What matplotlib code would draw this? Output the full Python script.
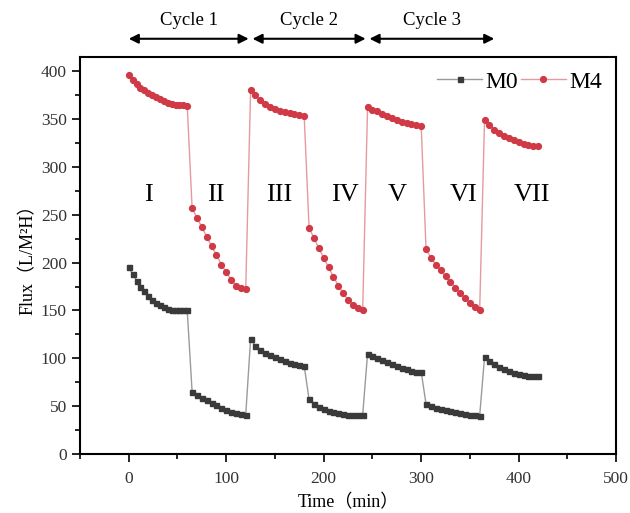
import numpy as np
import matplotlib
matplotlib.use('Agg')
import matplotlib.pyplot as plt
from matplotlib.ticker import MultipleLocator

plt.rcParams['font.family'] = ['Liberation Serif', 'Noto Sans CJK SC']

# 時間 (min)
t1 = [0, 4, 8, 12, 16, 20, 24, 28, 32, 36, 40, 44, 48, 52, 56, 60]
t2 = [65, 70, 75, 80, 85, 90, 95, 100, 105, 110, 115, 120]
t3 = [125, 130, 135, 140, 145, 150, 155, 160, 165, 170, 175, 180]
t4 = [185, 190, 195, 200, 205, 210, 215, 220, 225, 230, 235, 240]
t5 = [245, 250, 255, 260, 265, 270, 275, 280, 285, 290, 295, 300]
t6 = [305, 310, 315, 320, 325, 330, 335, 340, 345, 350, 355, 360]
t7 = [365, 370, 375, 380, 385, 390, 395, 400, 405, 410, 415, 420]

# M0 flux
m0_1 = [195, 188, 181, 175, 170, 165, 161, 158, 156, 154, 152, 151, 150, 150, 150, 150]
m0_2 = [65, 62, 59, 56, 53, 51, 48, 46, 44, 43, 42, 41]
m0_3 = [120, 113, 109, 106, 103, 101, 99, 97, 95, 94, 93, 92]
m0_4 = [57, 52, 49, 47, 45, 44, 43, 42, 41, 41, 41, 41]
m0_5 = [105, 102, 100, 98, 96, 94, 92, 90, 89, 87, 86, 86]
m0_6 = [52, 50, 48, 47, 46, 45, 44, 43, 42, 41, 41, 40]
m0_7 = [101, 97, 94, 91, 89, 87, 85, 84, 83, 82, 82, 82]

# M4 flux
m4_1 = [396, 391, 387, 383, 380, 377, 375, 373, 371, 369, 367, 366, 365, 365, 365, 364]
m4_2 = [257, 247, 237, 227, 217, 208, 198, 190, 182, 176, 174, 172]
m4_3 = [380, 375, 370, 366, 363, 361, 359, 357, 356, 355, 354, 353]
m4_4 = [236, 226, 215, 205, 195, 185, 176, 168, 161, 156, 153, 151]
m4_5 = [363, 360, 358, 355, 353, 351, 349, 347, 346, 345, 344, 343]
m4_6 = [214, 205, 198, 192, 186, 180, 174, 168, 163, 158, 154, 150]
m4_7 = [349, 344, 339, 335, 332, 330, 328, 326, 324, 323, 322, 322]

stage_labels = ['I', 'II', 'III', 'IV', 'V', 'VI', 'VII']
stage_x = [20, 89, 154, 222, 275, 344, 414]
cycle_labels = ['Cycle 1', 'Cycle 2', 'Cycle 3']
cycle_start = [0, 127, 247]
cycle_end = [123, 243, 375]

t = t1 + t2 + t3 + t4 + t5 + t6 + t7
m0 = m0_1 + m0_2 + m0_3 + m0_4 + m0_5 + m0_6 + m0_7
m4 = m4_1 + m4_2 + m4_3 + m4_4 + m4_5 + m4_6 + m4_7

fig = plt.figure(figsize=(6.3, 5.13), dpi=100)
ax = fig.add_axes([0.127, 0.115, 0.851, 0.774])

ax.plot(t, m0, color='#9a9a9a', lw=1.0, marker='s', ms=3.6,
        mfc='#3a3a3a', mec='#3a3a3a', label='M0')
ax.plot(t, m4, color='#e59aa0', lw=1.0, marker='o', ms=4.2,
        mfc='#d03a46', mec='#d03a46', label='M4')

ax.set_xlim(-50, 500)
ax.set_ylim(0, 415)
ax.xaxis.set_major_locator(MultipleLocator(100))
ax.xaxis.set_minor_locator(MultipleLocator(50))
ax.yaxis.set_major_locator(MultipleLocator(50))
ax.yaxis.set_minor_locator(MultipleLocator(25))
ax.tick_params(which='major', direction='out', length=6, width=1.2,
               labelsize=12.5, labelcolor='#333333')
ax.tick_params(axis='x', which='major', pad=6)
ax.tick_params(which='minor', direction='out', length=3.5, width=1.2)
for s in ax.spines.values():
    s.set_linewidth(1.5)

ax.set_xlabel('Time（min）', size=13, labelpad=5)
ax.set_ylabel('Flux（L/M²H）', size=13, labelpad=3)

for lab, x in zip(stage_labels, stage_x):
    ax.text(x, 271, lab, ha='center', va='center', size=19)

for lab, a, b in zip(cycle_labels, cycle_start, cycle_end):
    ax.annotate('', xy=(a, 434), xytext=(b, 434), annotation_clip=False,
                arrowprops=dict(arrowstyle='<|-|>', color='black', lw=1.5,
                                mutation_scale=14, shrinkA=0, shrinkB=0))
    ax.text((a + b) / 2, 453, lab, ha='center', va='center', size=13.5,
            clip_on=False)

ax.legend(loc='upper right', ncol=2, frameon=False, fontsize=17,
          handlelength=1.9, columnspacing=0.1, handletextpad=0.15,
          borderaxespad=0.2)

fig.savefig('out.png', dpi=100)
